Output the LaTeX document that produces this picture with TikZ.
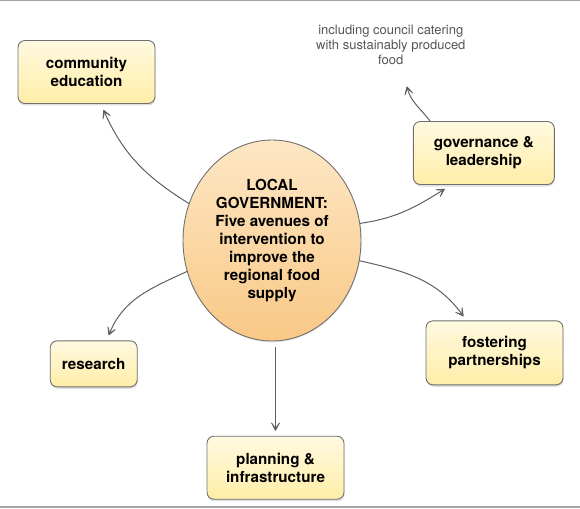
\documentclass[tikz,border=0pt]{standalone}
\usepackage{fontspec}
\setmainfont{TeX Gyre Heros}
\usepackage{tikz}
\usetikzlibrary{arrows.meta,shapes.geometric,shadows}

\definecolor{boxtop}{RGB}{255,249,224}
\definecolor{boxbot}{RGB}{255,238,168}
\definecolor{hubtop}{RGB}{253,231,196}
\definecolor{hubbot}{RGB}{249,200,134}
\definecolor{rim}{RGB}{112,112,112}
\definecolor{wire}{RGB}{95,95,95}
\definecolor{rule}{RGB}{165,165,165}
\definecolor{notegray}{RGB}{85,85,85}

\tikzset{
  avenue/.style={draw=rim, line width=0.9pt, rounded corners=7pt,
    top color=boxtop, bottom color=boxbot, minimum width=137pt,
    minimum height=63pt, align=center,
    font=\fontsize{15.2}{18}\selectfont\bfseries,
    drop shadow={shadow xshift=0.5pt, shadow yshift=-2pt, opacity=0.25}},
  hub/.style={ellipse, draw=rim, line width=0.9pt, inner sep=0pt,
    top color=hubtop, bottom color=hubbot, minimum width=178pt,
    minimum height=201pt, align=center,
    font=\fontsize{15.2}{18}\selectfont\bfseries,
    drop shadow={shadow xshift=0.5pt, shadow yshift=-1.5pt, opacity=0.15}},
  note/.style={align=center, text=notegray,
    font=\fontsize{13}{15}\selectfont},
  link/.style={draw=wire, line width=1pt,
    -{Stealth[open, round, length=14pt, width=15pt, inset=10.5pt]}},
}

\begin{document}
\begin{tikzpicture}[x=1pt, y=-1pt]
  \useasboundingbox (0,0) rectangle (580,508);
  \draw[rule, line width=1.5pt] (0,0.75) -- (580,0.75);
  \draw[rule, line width=1.5pt] (0,507) -- (580,507);
  % Nodes
  \node[hub] (lg) at (272,240.5) {LOCAL\\GOVERNMENT:\\Five avenues of\\intervention to\\improve the\\regional food\\supply} ; %
  \node[avenue] (edu) at (86.5,72) {community\\education} ; %
  \node[avenue, minimum width=141pt] (gov) at (483.8,153) {governance \&\\leadership} ; %
  \node[avenue, minimum height=64pt] (fost) at (494.5,352.8) {fostering\\partnerships} ; %
  \node[avenue, minimum width=87pt, minimum height=46pt] (res) at (93.7,363.8) {research} ; %
  \node[avenue] (plan) at (275.5,467.7) {planning \&\\infrastructure} ; %
  \node[note] (cater) at (390.8,45) {including council catering\\with sustainably produced\\food} ; %
  % Edges
  \draw[link] (lg.156) to[out=148, in=-66] ([xshift=17pt, yshift=-6pt]edu.south) ; %
  \draw[link] (lg.11) to[out=8, in=-148] ([xshift=-39pt, yshift=-4pt]gov.south) ; %
  \draw[link] (gov.north -| 430,0) to[out=127, in=-75] ([xshift=16pt, yshift=-18pt]cater.south) ; %
  \draw[link] (lg.-13) to[out=-13, in=126] ([xshift=-31pt, yshift=4pt]fost.north) ; %
  \draw[link] (lg.200) to[out=205, in=68] ([xshift=15pt, yshift=5pt]res.north) ; %
  \draw[link, shorten <=6pt] (lg.south -| plan.north) -- ([yshift=5pt]plan.north) ; %
\end{tikzpicture}
\end{document}
